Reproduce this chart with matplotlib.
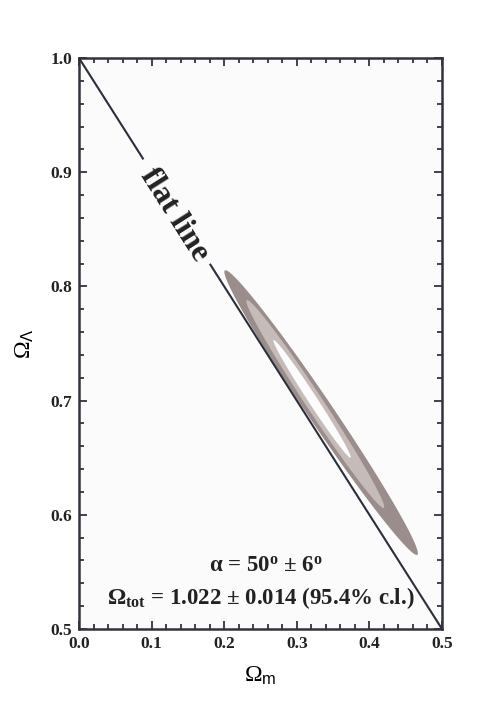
import numpy as np
import matplotlib
matplotlib.use("Agg")
import matplotlib.pyplot as plt

plt.rcParams['font.family'] = ['Liberation Serif', 'DejaVu Serif']
plt.rcParams['mathtext.fontset'] = 'custom'
plt.rcParams['mathtext.rm'] = 'Liberation Serif:bold'
plt.rcParams['mathtext.it'] = 'Liberation Serif:italic'
plt.rcParams['mathtext.bf'] = 'Liberation Serif:bold'
plt.rcParams['mathtext.sf'] = 'Liberation Sans'

# flat universe line: Omega_m + Omega_L = 1
flat_x = [0.0, 0.5]
flat_y = [1.0, 0.5]
gap_x = [0.088, 0.181]   # line broken around the label

# confidence regions: (upper tip, lower tip, half width in px)
tips_upper = [(0.201, 0.814), (0.231, 0.788), (0.268, 0.753)]
tips_lower = [(0.466, 0.565), (0.420, 0.606), (0.374, 0.650)]
half_width_px = [12.5, 8.5, 4.5]
region_colors = ['#9a8d8b', '#c5bcba', '#fdfcfc']

xticks = [0.0, 0.1, 0.2, 0.3, 0.4, 0.5]
yticks = [0.5, 0.6, 0.7, 0.8, 0.9, 1.0]

fig = plt.figure(figsize=(4.91, 7.07), dpi=100)
ax = fig.add_axes([79 / 491, 1 - 629 / 707, 363 / 491, 571 / 707])
ax.set_facecolor('#fbfbfb')
ax.set_xlim(0, 0.5)
ax.set_ylim(0.5, 1.0)

fig.canvas.draw()
# pixels per data unit, used to turn a width in pixels into data coords
sx = ax.get_window_extent().width / 0.5
sy = ax.get_window_extent().height / 0.5

t = np.linspace(0, 2 * np.pi, 300)
for up, lo, hw, col in zip(tips_upper, tips_lower, half_width_px, region_colors):
    cx = (up[0] + lo[0]) / 2
    cy = (up[1] + lo[1]) / 2
    # major axis in pixel space
    ax_px = np.array([(lo[0] - up[0]) / 2 * sx, (lo[1] - up[1]) / 2 * sy])
    n = np.array([-ax_px[1], ax_px[0]]) / np.hypot(*ax_px) * hw
    px = np.outer(np.cos(t), ax_px) + np.outer(np.sin(t), n)
    ax.fill(cx + px[:, 0] / sx, cy + px[:, 1] / sy, color=col, lw=0, zorder=2)

line_col = '#2b2e3b'
ax.plot([flat_x[0], gap_x[0]], [flat_y[0], 1 - gap_x[0]], color=line_col, lw=1.5, zorder=3)
ax.plot([gap_x[1], flat_x[1]], [1 - gap_x[1], flat_y[1]], color=line_col, lw=1.5, zorder=3)

ang = -np.degrees(np.arctan2(sy, sx))
ax.text(np.mean(gap_x) - 0.003, 1 - np.mean(gap_x) - 0.003, 'flat line', rotation=ang,
        rotation_mode='anchor', ha='center', va='center', fontsize=23,
        fontweight='bold', color='#222')

ax.text(0.258, 0.555, 'α = 50$^{\\mathrm{o}}$ ± 6$^{\\mathrm{o}}$', ha='center', va='center',
        fontsize=16.5, fontweight='bold', color='#222')
ax.text(0.25, 0.527, 'Ω$_{\\mathrm{tot}}$ = 1.022 ± 0.014 (95.4% c.l.)',
        ha='center', va='center', fontsize=16.5, fontweight='bold', color='#222')

ax.set_xticks(xticks)
ax.set_yticks(yticks)
ax.set_xticklabels([f'{v:.1f}' for v in xticks])
ax.set_yticklabels([f'{v:.1f}' for v in yticks])
ax.set_xticks(np.arange(0, 0.5001, 0.02), minor=True)
ax.set_yticks(np.arange(0.5, 1.0001, 0.02), minor=True)
ax.tick_params(which='both', direction='in', top=True, right=True, color='#333340', width=1.3)
ax.tick_params(which='major', length=6, labelsize=12.5, pad=5)
ax.tick_params(which='minor', length=3.5)
for lab in ax.get_xticklabels() + ax.get_yticklabels():
    lab.set_fontweight('bold')
    lab.set_color('#222')
for s in ax.spines.values():
    s.set_linewidth(1.8)
    s.set_color('#333340')

ax.set_xlabel('Ω$_{\\mathsf{m}}$', fontsize=17, labelpad=9)
ax.set_ylabel('Ω$_{\\mathsf{Λ}}$', fontsize=17, labelpad=10)

fig.savefig('out.png', dpi=100, facecolor='white')
